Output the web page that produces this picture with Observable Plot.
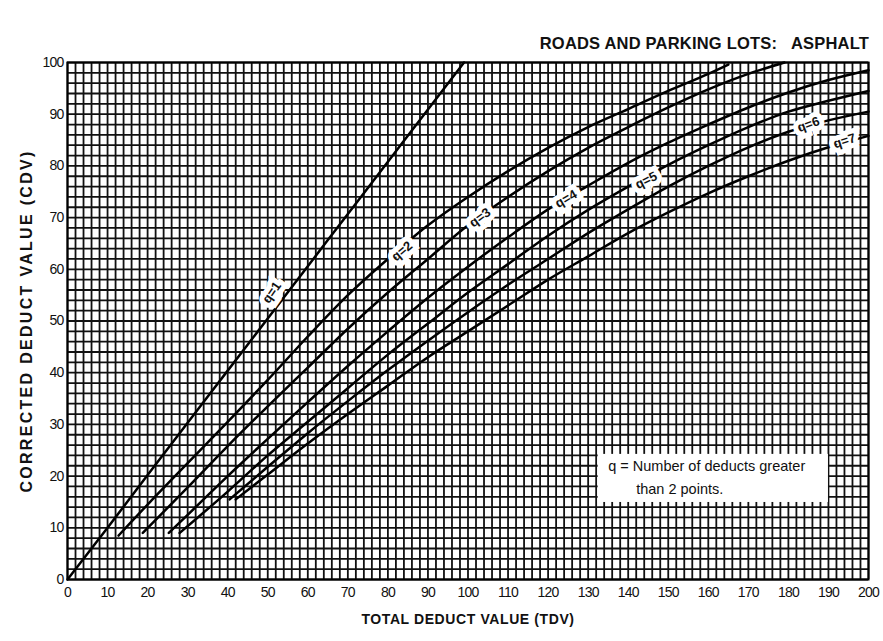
<!DOCTYPE html>
<html>
<head>
<meta charset="utf-8">
<script src="https://cdn.jsdelivr.net/npm/d3@7"></script>
<script src="https://cdn.jsdelivr.net/npm/@observablehq/plot@0.6"></script>
<style>
  html, body { margin: 0; padding: 0; background: #ffffff; }
  #wrap { width: 883px; height: 641px; position: relative; font-family: "Liberation Sans", Arial, sans-serif; }
  #title { height: 52px; box-sizing: border-box; text-align: right; padding-right: 14px; padding-top: 34px;
           font-weight: bold; font-size: 16.5px; letter-spacing: 0.2px; color: #111; white-space: pre; line-height: 18px; }
  svg [aria-label="x-axis label"] text { font-weight: bold; font-size: 14px; letter-spacing: 0.6px; }
  svg [aria-label="y-axis label"] text { font-weight: bold; font-size: 16px; letter-spacing: 2.3px; }
  svg [aria-label="x-axis tick label"] text, svg [aria-label="y-axis tick label"] text { font-size: 14px; letter-spacing: -0.8px; }
</style>
</head>
<body>
<div id="wrap">
  <div id="title">ROADS AND PARKING LOTS:   ASPHALT</div>
  <div id="chart"></div>
</div>
<script>
// Tick labels
const xTicks = [0,10,20,30,40,50,60,70,80,90,100,110,120,130,140,150,160,170,180,190,200];
const yTicks = [0,10,20,30,40,50,60,70,80,90,100];
const gridStep = 2;

// Curves: total deduct value (TDV) -> corrected deduct value (CDV)
const q1TDV = [0, 10, 20, 30, 40, 50, 60, 70, 80, 90, 99];
const q1CDV = [0, 10, 20.2, 30.3, 40.4, 50.5, 60.6, 70.7, 80.8, 90.9, 100];

const q2TDV = [12.75, 20, 30, 40, 50, 60, 70, 80, 90, 100, 110, 120, 130, 140, 150, 160, 165];
const q2CDV = [8.5, 14.5, 22.5, 30.5, 38.6, 47, 55, 62, 68.5, 74, 79, 83.5, 87.5, 91, 94.5, 97.8, 99.6];

const q3TDV = [18.8, 30, 40, 50, 60, 70, 80, 90, 100, 110, 120, 130, 140, 150, 160, 170, 179];
const q3CDV = [9, 17.8, 25.8, 33.5, 41, 48.5, 55.5, 62, 68.5, 74, 79, 83.5, 87.5, 91.3, 94.8, 97.8, 100];

const q4TDV = [25.3, 30, 40, 50, 60, 70, 80, 90, 100, 110, 120, 130, 140, 150, 160, 170, 180, 190, 200];
const q4CDV = [9, 12.5, 20, 27.2, 34.3, 41.3, 48, 54.5, 60.5, 66.2, 71.6, 76.2, 80.6, 84.5, 88, 91.3, 94.2, 96.6, 98.5];

const q5TDV = [28, 40, 50, 60, 70, 80, 90, 100, 110, 120, 130, 140, 150, 160, 170, 180, 190, 200];
const q5CDV = [9, 17, 24, 30.5, 37, 43.5, 49.5, 55.5, 61, 66.5, 71.5, 76, 80.2, 84, 87.5, 90.5, 92.6, 94.5];

const q6TDV = [40.5, 50, 60, 70, 80, 90, 100, 110, 120, 130, 140, 150, 160, 170, 180, 190, 200];
const q6CDV = [15.5, 21.8, 28.3, 34.5, 40.5, 46.2, 51.7, 57, 62, 67, 71.6, 76, 80, 83.6, 86.6, 88.8, 90.5];

const q7TDV = [42, 50, 60, 70, 80, 90, 100, 110, 120, 130, 140, 150, 160, 170, 180, 190, 200];
const q7CDV = [15.5, 20.3, 26.3, 32, 37.5, 43, 48, 53, 58, 62.5, 67, 71, 74.7, 78, 81, 83.6, 85.8];

const seriesNames = ["q=1","q=2","q=3","q=4","q=5","q=6","q=7"];
const seriesTDV = [q1TDV, q2TDV, q3TDV, q4TDV, q5TDV, q6TDV, q7TDV];
const seriesCDV = [q1CDV, q2CDV, q3CDV, q4CDV, q5CDV, q6CDV, q7CDV];

// Curve labels placed along the curves
const labelText  = ["q=1", "q=2", "q=3", "q=4", "q=5", "q=6", "q=7"];
const labelTDV   = [51, 83.5, 103, 124.5, 144.5, 185, 194];
const labelCDV   = [55.5, 63.5, 70, 73.6, 77.2, 88, 84.8];
const labelAngle = [-55, -40, -36, -30, -27, -20, -18];

// Legend note
const noteLines = ["q = Number of deducts greater", "than 2 points."];
const noteTDV = [135, 142];
const noteCDV = [21.8, 17.5];
const noteBox = {x1: 132.5, x2: 190, y1: 14.9, y2: 24.2};

const rows = [];
seriesNames.forEach((name, i) => {
  seriesTDV[i].forEach((t, j) => rows.push({q: name, tdv: t, cdv: seriesCDV[i][j]}));
});
const labels = labelText.map((t, i) => ({t, x: labelTDV[i], y: labelCDV[i], a: labelAngle[i]}));
const notes = noteLines.map((t, i) => ({t, x: noteTDV[i], y: noteCDV[i]}));

const gridX = d3.range(0, 200 + gridStep, gridStep);
const gridY = d3.range(0, 100 + gridStep, gridStep);

const chart = Plot.plot({
  width: 883,
  height: 589,
  marginTop: 10,
  marginBottom: 62,
  marginLeft: 67,
  marginRight: 15,
  style: { fontFamily: "'Liberation Sans', Arial, sans-serif", color: "#111", background: "transparent" },
  x: { domain: [0, 200] },
  y: { domain: [0, 100] },
  marks: [
    Plot.ruleX(gridX, { stroke: "#111", strokeWidth: 1.8, strokeOpacity: 1 }),
    Plot.ruleY(gridY, { stroke: "#111", strokeWidth: 1.8, strokeOpacity: 1 }),
    Plot.line(rows, { x: "tdv", y: "cdv", z: "q", stroke: "#000", strokeWidth: 2.5, curve: "monotone-x" }),
    Plot.rect([noteBox], { x1: "x1", x2: "x2", y1: "y1", y2: "y2", fill: "white" }),
    Plot.text(notes, { x: "x", y: "y", text: "t", textAnchor: "start", fontSize: 14.5, fill: "#111", letterSpacing: "-0.2px" }),
    Plot.text(labels, { x: "x", y: "y", text: "t", rotate: "a", fontSize: 13, fontWeight: "bold", fill: "#111",
                        stroke: "white", strokeWidth: 10, strokeLinejoin: "miter", paintOrder: "stroke" }),
    Plot.frame({ stroke: "#000", strokeWidth: 2 }),
    Plot.axisX(xTicks, { tickSize: 0, tickPadding: 8, fontSize: 14, label: "TOTAL DEDUCT VALUE (TDV)",
                         labelAnchor: "center", labelOffset: 44, labelArrow: "none" }),
    Plot.axisY(yTicks, { tickSize: 0, tickPadding: 4, fontSize: 14, label: "CORRECTED DEDUCT VALUE (CDV)",
                         labelAnchor: "center", labelOffset: 47, labelArrow: "none" })
  ]
});
document.getElementById("chart").appendChild(chart);
</script>
</body>
</html>
